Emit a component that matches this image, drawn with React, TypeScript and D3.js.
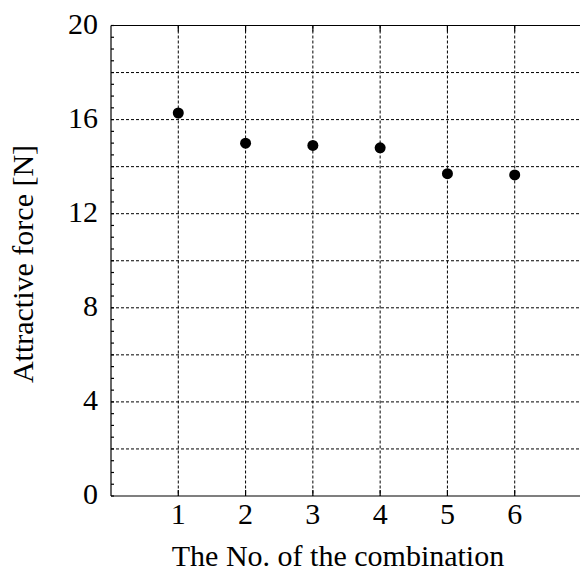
import React from "react";
import * as d3 from "d3";

// combination number vs. attractive force
const combos = [1, 2, 3, 4, 5, 6];
const forces = [16.28, 15.0, 14.9, 14.8, 13.7, 13.65];
const yTickLabels = [0, 4, 8, 12, 16, 20];
const yGridValues = [2, 4, 6, 8, 10, 12, 14, 16, 18];

const W = 580;
const H = 574;
const FONT = "'Liberation Serif', 'Times New Roman', serif";

export default function App() {
  const x = d3.scaleLinear().domain([0, 7]).range([111, 582]);
  const y = d3.scaleLinear().domain([0, 20]).range([496, 25.5]);
  const minor = d3.range(0, 20.01, 0.5);

  const left = x(0);
  const right = x(7);
  const top = y(20);
  const bottom = y(0);

  return (
    <div style={{ position: "absolute", left: 0, top: 0 }}>
      <svg width={W} height={H} style={{ display: "block", background: "#fff" }}>
        {/* grid */}
        <g stroke="#000" strokeWidth={1} strokeDasharray="3,2">
          {yGridValues.map((v) => (
            <line key={`gy${v}`} x1={left} x2={right} y1={y(v)} y2={y(v)} />
          ))}
          {combos.map((c) => (
            <line key={`gx${c}`} x1={x(c)} x2={x(c)} y1={top} y2={bottom} />
          ))}
        </g>
        {/* frame */}
        <g stroke="#000" strokeWidth={1.2} fill="none">
          <line x1={left} x2={right} y1={top} y2={top} />
          <line x1={left} x2={right} y1={bottom} y2={bottom} />
          <line x1={left} x2={left} y1={top} y2={bottom} />
          {minor.map((v) => (
            <line key={`m${v}`} x1={left} x2={left + 3} y1={y(v)} y2={y(v)} />
          ))}
          {combos.map((c) => (
            <g key={`t${c}`}>
              <line x1={x(c)} x2={x(c)} y1={bottom} y2={bottom - 6} />
              <line x1={x(c)} x2={x(c)} y1={top} y2={top + 6} />
            </g>
          ))}
        </g>
        {/* points */}
        <g fill="#000">
          {combos.map((c, i) => (
            <circle key={`p${c}`} cx={x(c)} cy={y(forces[i])} r={5.5} />
          ))}
        </g>
        {/* tick labels */}
        <g fontFamily={FONT} fontSize={30} fill="#000">
          {yTickLabels.map((v) => (
            <text key={`yl${v}`} x={98} y={y(v) + 8} textAnchor="end">
              {v}
            </text>
          ))}
          {combos.map((c) => (
            <text key={`xl${c}`} x={x(c)} y={524} textAnchor="middle">
              {c}
            </text>
          ))}
          <text x={338} y={566} textAnchor="middle">
            The No. of the combination
          </text>
          <text
            x={0}
            y={0}
            transform={`translate(33,264) rotate(-90)`}
            textAnchor="middle"
          >
            Attractive force [N]
          </text>
        </g>
      </svg>
    </div>
  );
}
